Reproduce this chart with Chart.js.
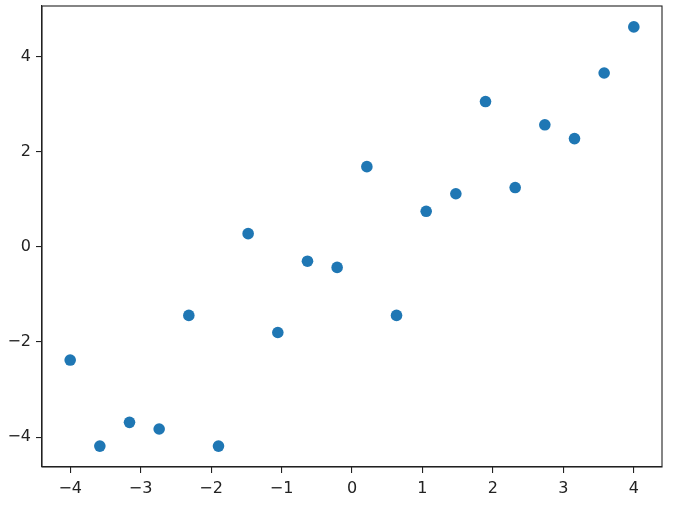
<!DOCTYPE html>
<html>
<head>
<meta charset="utf-8">
<script src="https://cdn.jsdelivr.net/npm/chart.js@4"></script>
<style>
html,body{margin:0;padding:0;background:#fff;}
#wrap{width:676px;height:505px;position:relative;}
</style>
</head>
<body>
<div id="wrap"><canvas id="c" width="676" height="505"></canvas></div>
<script>
const xValues = [-4.000, -3.579, -3.158, -2.737, -2.316, -1.895, -1.474, -1.053, -0.632, -0.211,
                 0.211, 0.632, 1.053, 1.474, 1.895, 2.316, 2.737, 3.158, 3.579, 4.000];
const yValues = [-2.38, -4.19, -3.69, -3.83, -1.44, -4.19, 0.28, -1.80, -0.30, -0.43,
                 1.69, -1.44, 0.75, 1.12, 3.06, 1.25, 2.57, 2.28, 3.66, 4.63];
const xTicks = [-4, -3, -2, -1, 0, 1, 2, 3, 4];
const yTicks = [-4, -2, 0, 2, 4];

const fmt = v => (v < 0 ? '\u2212' + Math.abs(v) : String(v));

const boxPlugin = {
  id: 'box',
  afterDraw(chart) {
    const {ctx, chartArea: a} = chart;
    ctx.save();
    ctx.strokeStyle = '#222';
    ctx.lineWidth = 1.1;
    ctx.strokeRect(a.left, a.top, a.right - a.left, a.bottom - a.top);
    ctx.restore();
  }
};

new Chart(document.getElementById('c'), {
  type: 'scatter',
  data: {
    datasets: [{
      data: xValues.map((x, i) => ({x: x, y: yValues[i]})),
      backgroundColor: '#1f77b4',
      borderWidth: 0,
      pointRadius: 5.8,
      pointHoverRadius: 5.8
    }]
  },
  options: {
    responsive: false,
    animation: false,
    devicePixelRatio: 1,
    layout: {padding: {top: 6, right: 14, left: 0, bottom: 0}},
    plugins: {legend: {display: false}, tooltip: {enabled: false}},
    scales: {
      x: {
        type: 'linear', min: -4.4, max: 4.4,
        afterBuildTicks: s => { s.ticks = xTicks.map(v => ({value: v})); },
        afterFit: s => { s.height = 38; s.paddingLeft = 0; s.paddingRight = 0; },
        grid: {drawOnChartArea: false, drawTicks: true, tickLength: 6, color: '#222', lineWidth: 1.1},
        border: {display: true, color: '#222', width: 1.1},
        ticks: {color: '#222', font: {family: 'DejaVu Sans', size: 16}, padding: 6, callback: v => fmt(v), maxRotation: 0}
      },
      y: {
        type: 'linear', min: -4.63, max: 5.07,
        afterBuildTicks: s => { s.ticks = yTicks.map(v => ({value: v})); },
        afterFit: s => { s.width = 42; s.paddingTop = 0; s.paddingBottom = 0; },
        grid: {drawOnChartArea: false, drawTicks: true, tickLength: 6, color: '#222', lineWidth: 1.1},
        border: {display: true, color: '#222', width: 1.1},
        ticks: {color: '#222', font: {family: 'DejaVu Sans', size: 16}, padding: 5, callback: v => fmt(v)}
      }
    }
  },
  plugins: [boxPlugin]
});
</script>
</body>
</html>
